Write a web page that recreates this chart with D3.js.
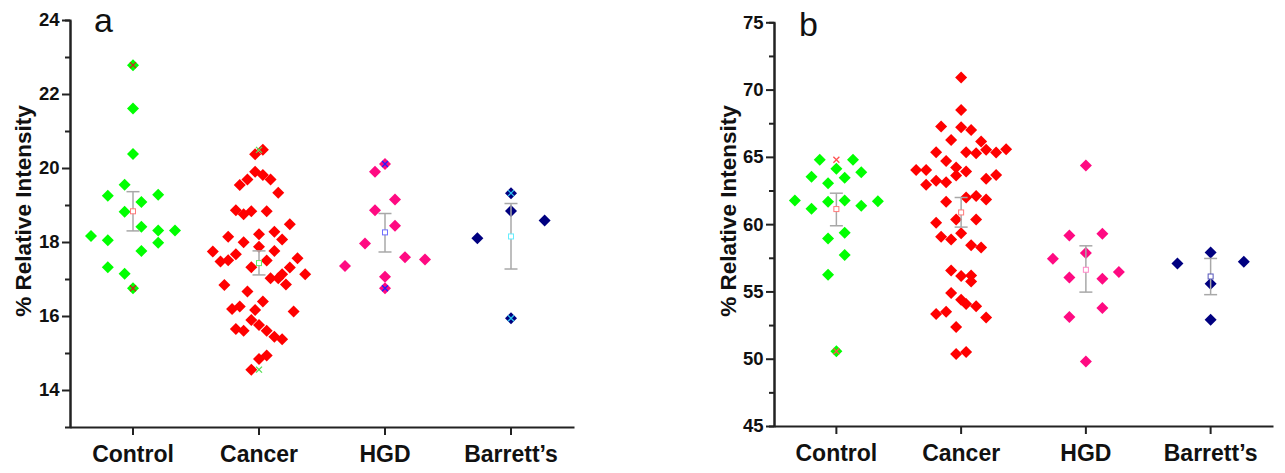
<!DOCTYPE html>
<html>
<head>
<meta charset="utf-8">
<script src="https://cdn.jsdelivr.net/npm/d3@7"></script>
<style>
body { margin: 0; background: #fff; }
svg { display: block; font-family: "Liberation Sans", Arial, sans-serif; }
</style>
</head>
<body>
<svg id="chart" width="1285" height="473"></svg>
<script>
var categories = ["Control", "Cancer", "HGD", "Barrett\u2019s"];

// panel a
var aTicks = [14, 16, 18, 20, 22, 24];
var aMinor = [15, 17, 19, 21, 23];
var aControl = [22.78, 21.61, 20.38, 19.55, 19.25, 19.28, 19.08, 18.82, 18.41, 18.31, 18.31, 18.16, 18.05, 17.98, 17.76, 17.32, 17.14, 16.75];
var aControlLane = [0, 0, 0, -1, -3, 3, 1, -1, 1, 3, 5, -5, -3, 3, 1, -3, -1, 0];
var aCancer = [20.49, 20.37, 19.90, 19.81, 19.69, 19.69, 19.54, 19.33, 18.86, 18.75, 18.83, 18.83, 18.48, 18.14, 18.21, 18.28, 18.07, 17.99, 17.87, 17.76,
    17.74, 17.67, 17.47, 17.51, 17.50, 17.56, 17.32, 17.31, 17.13, 17.02, 17.02, 17.13, 16.85, 16.84, 16.66, 16.39, 16.12, 16.19, 16.26, 16.16,
    15.89, 15.76, 15.60, 15.65, 15.60, 15.44, 15.37, 14.84, 14.93, 14.55];
var aCancerLane = [0.5, -0.5, -0.5, 0.5, -1.5, 1.5, -2.5, 2.5, -3, -2, -1, 1, 4, -4, 0, 2, 3, -2, 0, 2,
    -6, -3, -5, -4, 1, 5, -1, 4, 6, 1.5, 2.5, 3, 3.5, -4.5, -1.5, 0.5, 4.5, -3.5, -2.5, -0.5,
    -1, 0, 1, -3, -2, 2, 3, 0, 1, -1];
var aHgd = [20.11, 19.90, 19.15, 18.86, 18.44, 17.96, 17.35, 17.59, 17.53, 17.06, 16.75];
var aHgdLane = [0, -1, 1, -1, 1, -2, -4, 2, 4, 0, 0];
var aBarrett = [19.32, 18.84, 18.58, 18.10, 15.94];
var aBarrettLane = [0, 0, 4, -4, 0];
var aMean = [18.83, 17.43, 18.26, 18.15];
var aLow = [18.30, 17.11, 17.73, 17.27];
var aHigh = [19.36, 17.76, 18.77, 19.04];

// panel b
var bTicks = [45, 50, 55, 60, 65, 70, 75];
var bMinor = [47.5, 52.5, 57.5, 62.5, 67.5, 72.5];
var bControl = [64.78, 64.78, 64.11, 63.52, 63.86, 63.04, 63.44, 61.76, 61.71, 61.14, 61.66, 61.76, 61.36, 58.94, 59.36, 57.70, 56.24, 50.55];
var bControlLane = [-2, 2, 0, -3, 3, -1, 1, -5, 5, -3, -1, 1, 3, -1, 1, 1, -1, 0];
var bCancer = [70.89, 68.49, 67.25, 67.20, 67.00, 66.26, 66.14, 65.35, 65.35, 65.27, 65.52, 65.32, 65.57, 64.70, 64.03, 64.03, 64.21, 63.91, 63.61, 63.22,
    63.12, 62.92, 63.37, 63.66, 61.98, 62.10, 61.83, 61.66, 60.10, 60.35, 60.35, 59.33, 59.06, 58.86, 58.44, 58.27, 56.56, 56.14, 56.19, 55.74,
    54.88, 54.38, 54.06, 53.89, 53.32, 53.49, 53.07, 52.36, 50.35, 50.50];
var bCancerLane = [0, 0, -4, 0, 2, -2, 4, -5, 1, 3, 5, 7, 9, -3, -9, -7, -1, 1, -1, -5,
    -3, -7, 5, 7, 1, 3, 5, -3, -5, -1, 3, 0, -4, -2, 2, 4, -2, 0, 2, 2,
    -2, 0, 1, 3, -5, -3, 5, -1, -1, 1];
var bHgd = [64.35, 59.16, 59.28, 57.43, 57.85, 56.44, 56.04, 55.94, 53.77, 53.10, 49.80];
var bHgdLane = [0, -1, 1, -2, 0, 2, -1, 1, 1, -1, 0];
var bBarrett = [57.90, 57.08, 57.20, 55.57, 52.90];
var bBarrettLane = [0, -4, 4, 0, 0];
var bMean = [61.12, 60.87, 56.61, 56.11];
var bLow = [59.88, 59.78, 54.95, 54.76];
var bHigh = [62.30, 61.98, 58.39, 57.45];

var svg = d3.select("#chart");
var dotColor = ["#00ff00", "#ff0000", "#ff0a82", "#000080"];

function drawPanel(p) {
    var g = svg.append("g");
    var x = d3.scaleBand().domain(categories).range([p.left, p.right]);
    var y = d3.scaleLinear().domain(p.domain).range([p.bottom, p.top]);

    // minor ticks first, then the labelled axis over them
    g.append("g")
        .attr("transform", "translate(" + p.left + ",0)")
        .call(d3.axisLeft(y).tickValues(p.minor).tickSize(5).tickFormat(""))
        .call(styleAxis);
    g.append("g")
        .attr("transform", "translate(" + p.left + ",0)")
        .call(d3.axisLeft(y).tickValues(p.ticks).tickSize(8).tickPadding(2.5).tickSizeOuter(0))
        .call(styleAxis)
        .selectAll("text").attr("font-size", "18.5px");
    g.append("g")
        .attr("transform", "translate(0," + p.bottom + ")")
        .call(d3.axisBottom(x).tickSize(8).tickPadding(10.5).tickSizeOuter(0))
        .call(styleAxis)
        .selectAll("text").attr("font-size", "23px");

    g.append("text")
        .attr("transform", "translate(" + p.titleX + "," + 211 + ") rotate(-90)")
        .attr("text-anchor", "middle")
        .attr("font-size", "22.5px").attr("font-weight", "bold").attr("fill", "#111")
        .text("% Relative Intensity");
    g.append("text")
        .attr("x", p.letterX).attr("y", p.letterY)
        .attr("font-size", "34px").attr("fill", "#111")
        .text(p.letter);

    var diamond = "M0,-6L6,0L0,6L-6,0Z";
    p.groups.forEach(function (grp, i) {
        var cx = x(categories[i]) + x.bandwidth() / 2;
        g.append("g").selectAll("path")
            .data(grp.vals)
            .enter().append("path")
            .attr("d", diamond)
            .attr("fill", dotColor[i])
            .attr("transform", function (d, k) {
                return "translate(" + (cx + grp.lane[k] * p.step[i]) + "," + y(d) + ")";
            });
    });

    p.groups.forEach(function (grp, i) {
        var cx = x(categories[i]) + x.bandwidth() / 2;
        var eb = g.append("g").attr("stroke", "#a8a8a8").attr("stroke-width", 1.5);
        eb.append("line").attr("x1", cx).attr("x2", cx).attr("y1", y(p.low[i])).attr("y2", y(p.high[i]));
        eb.append("line").attr("x1", cx - 6.5).attr("x2", cx + 6.5).attr("y1", y(p.low[i])).attr("y2", y(p.low[i]));
        eb.append("line").attr("x1", cx - 6.5).attr("x2", cx + 6.5).attr("y1", y(p.high[i])).attr("y2", y(p.high[i]));
        g.append("rect")
            .attr("x", cx - 2.5).attr("y", y(p.mean[i]) - 2.5)
            .attr("width", 5).attr("height", 5)
            .attr("fill", "#fff").attr("stroke", p.meanColor[i]).attr("stroke-width", 1);

        if (p.markColor[i]) {
            var ext = d3.extent(grp.vals);
            g.append("g").selectAll("path")
                .data(ext)
                .enter().append("path")
                .attr("d", "M-3,-3L3,3M-3,3L3,-3")
                .attr("stroke", p.markColor[i]).attr("stroke-width", 1.3)
                .attr("transform", function (d) { return "translate(" + cx + "," + y(d) + ")"; });
        }
    });
}

function styleAxis(sel) {
    sel.select(".domain").attr("stroke", "#222").attr("stroke-width", 2);
    sel.selectAll(".tick line").attr("stroke", "#222").attr("stroke-width", 2);
    sel.selectAll(".tick text").attr("fill", "#111").attr("font-weight", "bold")
        .attr("font-family", "'Liberation Sans', Arial, sans-serif");
}

drawPanel({
    left: 70, right: 574, top: 20, bottom: 427, domain: [13, 24],
    ticks: aTicks, minor: aMinor, titleX: 31, letter: "a", letterX: 94, letterY: 32,
    groups: [
        {vals: aControl, lane: aControlLane},
        {vals: aCancer, lane: aCancerLane},
        {vals: aHgd, lane: aHgdLane},
        {vals: aBarrett, lane: aBarrettLane}
    ],
    step: [8.4, 7.7, 10, 8.4],
    mean: aMean, low: aLow, high: aHigh,
    meanColor: ["#ff7a7a", "#66ee66", "#7070ff", "#66eeff"],
    markColor: ["#d02020", "#55dd55", "#2020ff", "#30c8f0"]
});

drawPanel({
    left: 774, right: 1273, top: 22.3, bottom: 426, domain: [45, 75],
    ticks: bTicks, minor: bMinor, titleX: 736, letter: "b", letterX: 799, letterY: 36,
    groups: [
        {vals: bControl, lane: bControlLane},
        {vals: bCancer, lane: bCancerLane},
        {vals: bHgd, lane: bHgdLane},
        {vals: bBarrett, lane: bBarrettLane}
    ],
    step: [8.3, 5, 16.5, 8.3],
    mean: bMean, low: bLow, high: bHigh,
    meanColor: ["#ff7a7a", "#ff7a7a", "#ff88c8", "#5555bb"],
    markColor: ["#ff5050", null, null, null]
});
</script>
</body>
</html>
